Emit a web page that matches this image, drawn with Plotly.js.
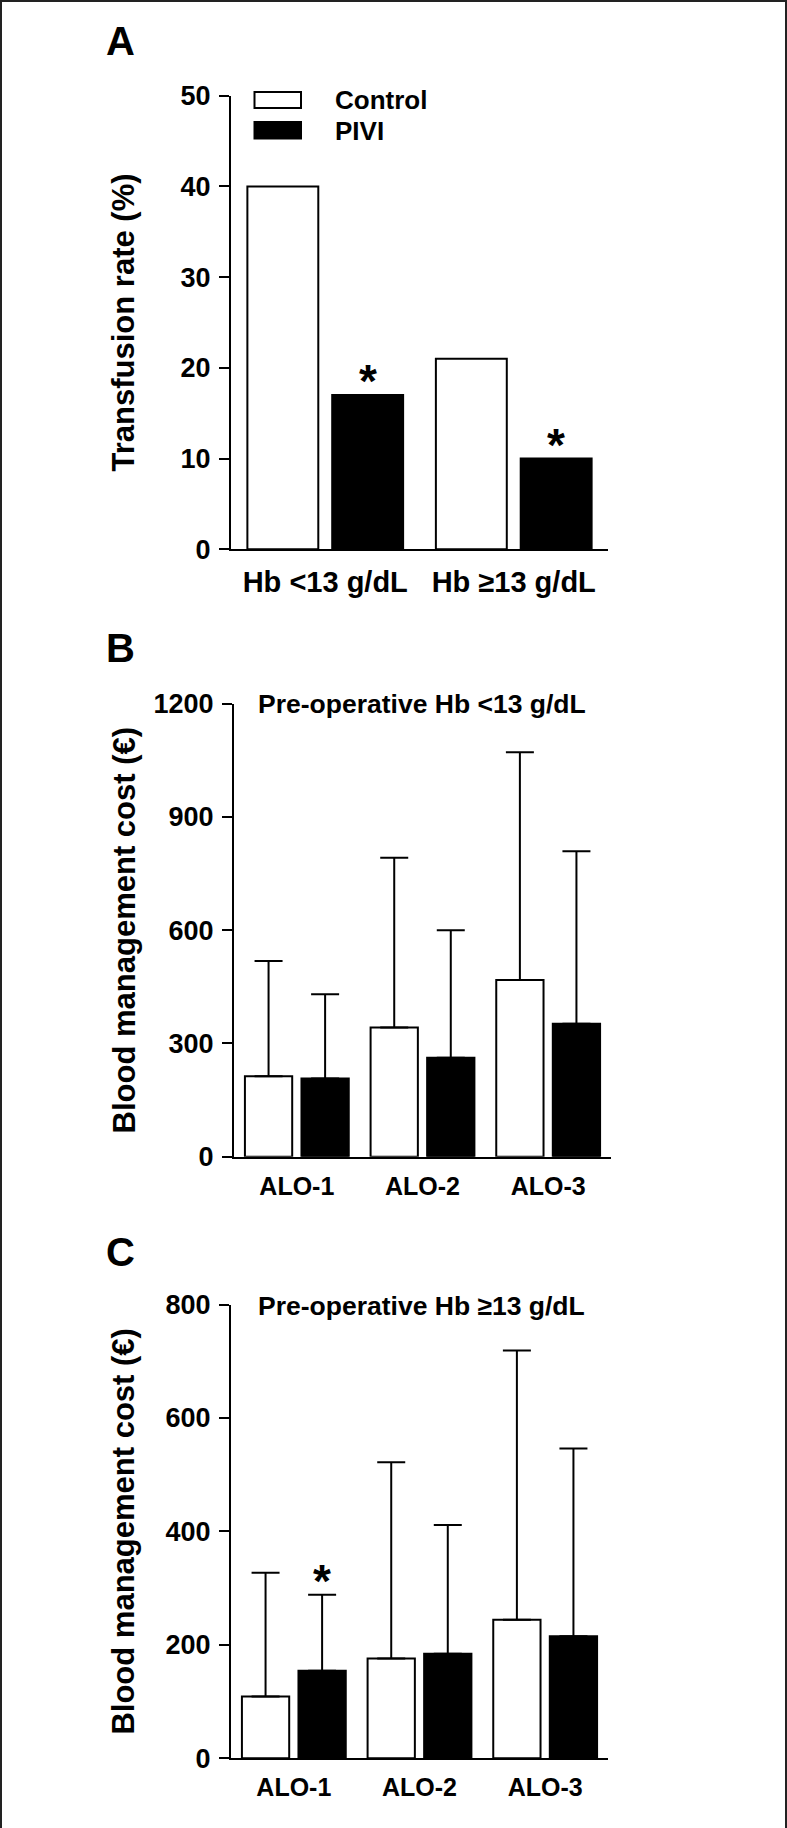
<!DOCTYPE html>
<html>
<head>
<meta charset="utf-8">
<script src="https://cdn.plot.ly/plotly-3.0.1.min.js"></script>
<style>
  html, body { margin: 0; padding: 0; background: #fff; }
  #chart { width: 787px; height: 1828px; }
</style>
</head>
<body>
<div id="chart"></div>
<script>
// ---------- Data ----------
const groupsA = ['Hb <13 g/dL', 'Hb \u226513 g/dL'];
const controlA = [40, 21];
const piviA = [17, 10];
const sigA = ['*', '*'];

const groupsBC = ['ALO-1', 'ALO-2', 'ALO-3'];
const controlB = [213, 342, 468];
const controlBsd = [305, 450, 603];
const piviB = [207, 262, 352];
const piviBsd = [223, 338, 457];
const sigB = ['', '', ''];

const controlC = [109, 176, 244];
const controlCsd = [218, 346, 475];
const piviC = [154, 184, 215];
const piviCsd = [134, 227, 331];
const sigC = ['*', '', ''];

const seriesNames = ['Control', 'PIVI'];
const panelLetters = ['A', 'B', 'C'];
const subtitles = ['', 'Pre-operative Hb <13 g/dL', 'Pre-operative Hb \u226513 g/dL'];
const yTitles = ['Transfusion rate (%)', 'Blood management cost (\u20ac)', 'Blood management cost (\u20ac)'];

// ---------- Styling ----------
const W = 787, H = 1828;
const FONT = 'Liberation Sans, Arial, Helvetica, sans-serif';
const BARGAP = 0.1, BARGROUPGAP = 0.164;
const pOff = (1 - BARGAP) / 4;   // centre offset of the 2nd bar in each group
const px = v => v / W;
const py = v => 1 - v / H;

function errY(arr) {
  return { type: 'data', symmetric: false, array: arr, arrayminus: arr.map(() => 0),
           color: '#000', thickness: 2, width: 14 };
}
function barTrace(x, y, name, idx, xa, ya, err) {
  const t = {
    type: 'bar', x: x, y: y, name: name, xaxis: xa, yaxis: ya, showlegend: false,
    marker: { color: idx === 0 ? '#ffffff' : '#000000', line: { color: '#000', width: 2 } },
    hoverinfo: 'x+y+name'
  };
  if (err) t.error_y = errY(err);
  return t;
}

const data = [
  barTrace(groupsA, controlA, seriesNames[0], 0, 'x', 'y'),
  barTrace(groupsA, piviA, seriesNames[1], 1, 'x', 'y'),
  barTrace(groupsBC, controlB, seriesNames[0], 0, 'x2', 'y2', controlBsd),
  barTrace(groupsBC, piviB, seriesNames[1], 1, 'x2', 'y2', piviBsd),
  barTrace(groupsBC, controlC, seriesNames[0], 0, 'x3', 'y3', controlCsd),
  barTrace(groupsBC, piviC, seriesNames[1], 1, 'x3', 'y3', piviCsd)
];

function xAxis(domain, anchor, n, fs) {
  return {
    domain: domain, anchor: anchor, type: 'category', range: [-0.5, n - 0.5],
    showline: true, linecolor: '#000', linewidth: 2, ticks: '', showgrid: false, zeroline: false,
    tickfont: { family: FONT, size: fs, color: '#000', weight: 'bold' },
    ticklabelstandoff: 6, fixedrange: true
  };
}
function yAxis(domain, anchor, range, dtick, title, standoff) {
  return {
    domain: domain, anchor: anchor, range: range, dtick: dtick, tick0: 0,
    showline: true, linecolor: '#000', linewidth: 2, showgrid: false, zeroline: false,
    ticks: 'outside', ticklen: 10, tickwidth: 2, tickcolor: '#000',
    tickfont: { family: FONT, size: 27, color: '#000', weight: 'bold' },
    ticklabelstandoff: 3,
    title: { text: title, standoff: standoff, font: { family: FONT, size: 31, color: '#000', weight: 'bold' } },
    fixedrange: true
  };
}

const xdA = [px(231), px(608)], xdB = [px(234), px(611)], xdC = [px(231), px(608)];
const ydA = [py(549.2), py(95.7)], ydB = [py(1156.7), py(703.6)], ydC = [py(1758.2), py(1304.5)];

const annotations = [];
const letterY = [41, 647.5, 1252];
panelLetters.forEach((L, i) => annotations.push({
  text: L, xref: 'paper', yref: 'paper', x: px(121), y: py(letterY[i]),
  xanchor: 'center', yanchor: 'middle', showarrow: false,
  font: { family: FONT, size: 40, color: '#000', weight: 'bold' }
}));
const subY = [0, 704, 1306];
[1, 2].forEach(i => annotations.push({
  text: subtitles[i], xref: 'paper', yref: 'paper', x: px(256), y: py(subY[i]),
  xanchor: 'left', yanchor: 'middle', showarrow: false,
  font: { family: FONT, size: 26.5, color: '#000', weight: 'bold' }
}));
// legend labels (panel A)
const legY = [100, 130.7];
seriesNames.forEach((n, i) => annotations.push({
  text: n, xref: 'paper', yref: 'paper', x: px(333), y: py(legY[i]),
  xanchor: 'left', yanchor: 'middle', showarrow: false,
  font: { family: FONT, size: 26, color: '#000', weight: 'bold' }
}));
// significance stars on the PIVI bars
function stars(sig, vals, sd, xa, ya) {
  sig.forEach((s, i) => {
    if (!s) return;
    annotations.push({
      text: s, xref: xa, yref: ya, x: i + pOff, y: vals[i] + (sd ? sd[i] : 0),
      xanchor: 'center', yanchor: 'middle', yshift: 14, showarrow: false,
      font: { family: FONT, size: 46, color: '#000', weight: 'bold' }
    });
  });
}
stars(sigA, piviA, null, 'x', 'y');
stars(sigB, piviB, piviBsd, 'x2', 'y2');
stars(sigC, piviC, piviCsd, 'x3', 'y3');

const shapes = [
  // legend swatches
  { type: 'rect', xref: 'paper', yref: 'paper', x0: px(254.5), x1: px(301), y0: py(108), y1: py(92),
    fillcolor: '#fff', line: { color: '#000', width: 2 } },
  { type: 'rect', xref: 'paper', yref: 'paper', x0: px(254.5), x1: px(301), y0: py(138.5), y1: py(122),
    fillcolor: '#000', line: { color: '#000', width: 2 } },
  // figure frame
  { type: 'line', xref: 'paper', yref: 'paper', x0: px(1), x1: px(1), y0: 0, y1: 1, line: { color: '#222', width: 2 } },
  { type: 'line', xref: 'paper', yref: 'paper', x0: px(786), x1: px(786), y0: 0, y1: 1, line: { color: '#222', width: 2 } },
  { type: 'line', xref: 'paper', yref: 'paper', x0: 0, x1: 1, y0: py(1), y1: py(1), line: { color: '#222', width: 2 } }
];

const layout = {
  width: W, height: H, margin: { l: 0, r: 0, t: 0, b: 0 },
  paper_bgcolor: '#fff', plot_bgcolor: '#fff',
  barmode: 'group', bargap: BARGAP, bargroupgap: BARGROUPGAP,
  showlegend: false,
  font: { family: FONT, color: '#000' },
  xaxis: xAxis(xdA, 'y', 2, 29),
  yaxis: yAxis(ydA, 'x', [0, 50], 10, yTitles[0], 37),
  xaxis2: xAxis(xdB, 'y2', 3, 25),
  yaxis2: yAxis(ydB, 'x2', [0, 1200], 300, yTitles[1], 9),
  xaxis3: xAxis(xdC, 'y3', 3, 25),
  yaxis3: yAxis(ydC, 'x3', [0, 800], 200, yTitles[2], 22),
  annotations: annotations,
  shapes: shapes
};

Plotly.newPlot('chart', data, layout, { displayModeBar: false, staticPlot: true });
</script>
</body>
</html>
